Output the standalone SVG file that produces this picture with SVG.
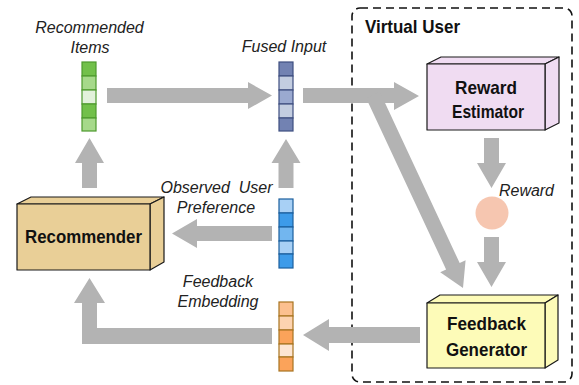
<svg xmlns="http://www.w3.org/2000/svg" width="579" height="385" viewBox="0 0 579 385">
  <style>
    .arr { fill: #b3b3b3; }
    .lbl { font-family: "Liberation Sans", Arial, sans-serif; font-style: italic; font-size: 16px; fill: #222; }
    .box { stroke: #1a1a1a; stroke-width: 1.2; stroke-linejoin: round; }
    .title { font-family: "Liberation Sans", Arial, sans-serif; font-weight: bold; font-size: 19px; fill: #111; }
    .cell { stroke-width: 1.2; }
  </style>

  <rect width="579" height="385" fill="#ffffff"/>

  <!-- Virtual user container -->
  <g id="virtual-user">
    <rect x="352" y="8" width="220" height="374" rx="8" ry="8" fill="none" stroke="#111" stroke-width="1.6" stroke-dasharray="8 5"/>
    <text class="title" x="365" y="33" textLength="95" lengthAdjust="spacingAndGlyphs">Virtual User</text>
  </g>

  <!-- Connectors -->
  <g id="connectors">
    <polygon class="arr" points="107,88 248,88 248,82 272,95.5 248,109 248,103 107,103"/>
    <polygon class="arr" points="303,88 394,88 394,82 419,96 394,110 394,103 303,103"/>
    <polygon class="arr" points="366.2,98.2 379.8,91.8 459.7,263.1 465.6,260.3 463,288 440.2,272.2 446.1,269.4"/>
    <polygon class="arr" points="484,138 499,138 499,163 506,163 491.5,188 477,163 484,163"/>
    <polygon class="arr" points="484,237 499,237 499,262 506,262 491.5,287 477,262 484,262"/>
    <polygon class="arr" points="272,226 197,226 197,219 172,233.5 197,248 197,241 272,241"/>
    <polygon class="arr" points="82,188 82,163 75,163 89.5,138 104,163 97,163 97,188"/>
    <polygon class="arr" points="278.5,188 278.5,163 271.5,163 286,139 300.5,163 293.5,163 293.5,188"/>
    <polygon class="arr" points="272,328 272,344 82,344 82,303 74,303 89.5,278 105,303 97,303 97,328"/>
    <polygon class="arr" points="420,327 329,327 329,319 303,335 329,351 329,343 420,343"/>
  </g>

  <!-- Recommender -->
  <g id="recommender">
    <polygon class="box" fill="#e9cf97" points="17,204 31,197 164,197 150,204"/>
    <polygon class="box" fill="#e9cf97" points="150,204 164,197 164,262 150,270"/>
    <rect class="box" fill="#e9cf97" x="17" y="204" width="133" height="66"/>
    <text class="title" x="83.5" y="243" text-anchor="middle" textLength="117" lengthAdjust="spacingAndGlyphs">Recommender</text>
  </g>

  <!-- Reward estimator -->
  <g id="reward-estimator">
    <polygon class="box" fill="#f0dcf2" points="427,64 441,57 559,57 545,64"/>
    <polygon class="box" fill="#f0dcf2" points="545,64 559,57 559,123 545,130"/>
    <rect class="box" fill="#f0dcf2" x="427" y="64" width="118" height="66"/>
    <text class="title" x="486" y="94" text-anchor="middle" textLength="62" lengthAdjust="spacingAndGlyphs">Reward</text>
    <text class="title" x="488" y="118" text-anchor="middle" textLength="72" lengthAdjust="spacingAndGlyphs">Estimator</text>
  </g>

  <!-- Reward signal -->
  <g id="reward">
    <circle cx="492" cy="213" r="16.5" fill="#f6c6b0"/>
    <text class="lbl" x="499" y="196" textLength="55" lengthAdjust="spacingAndGlyphs">Reward</text>
  </g>

  <!-- Feedback generator -->
  <g id="feedback-generator">
    <polygon class="box" fill="#fdfbb8" points="427,303 440,295 558,295 545,303"/>
    <polygon class="box" fill="#fdfbb8" points="545,303 558,295 558,360 545,368"/>
    <rect class="box" fill="#fdfbb8" x="427" y="303" width="118" height="65"/>
    <text class="title" x="486.5" y="330" text-anchor="middle" textLength="79" lengthAdjust="spacingAndGlyphs">Feedback</text>
    <text class="title" x="486.5" y="356" text-anchor="middle" textLength="81" lengthAdjust="spacingAndGlyphs">Generator</text>
  </g>

  <!-- Recommended items vector -->
  <g id="recommended-items">
    <g class="cell" stroke="#4e9a2e">
      <rect x="82" y="62" width="14" height="14" fill="#72c04a"/>
      <rect x="82" y="76" width="14" height="14" fill="#a6d98a"/>
      <rect x="82" y="90" width="14" height="14" fill="#e2f1db"/>
      <rect x="82" y="104" width="14" height="14" fill="#72c04a"/>
      <rect x="82" y="118" width="14" height="13" fill="#a6d98a"/>
    </g>
    <text class="lbl" x="89.5" y="33" text-anchor="middle">Recommended</text>
    <text class="lbl" x="90" y="53" text-anchor="middle">Items</text>
  </g>

  <!-- Fused input vector -->
  <g id="fused-input">
    <g class="cell" stroke="#3f4f80">
      <rect x="279" y="62" width="14" height="14" fill="#7282b2"/>
      <rect x="279" y="76" width="14" height="14" fill="#c3cde0"/>
      <rect x="279" y="90" width="14" height="14" fill="#9aa9d0"/>
      <rect x="279" y="104" width="14" height="14" fill="#c3cde0"/>
      <rect x="279" y="118" width="14" height="13" fill="#7282b2"/>
    </g>
    <text class="lbl" x="284" y="52" text-anchor="middle">Fused Input</text>
  </g>

  <!-- Observed user preference vector -->
  <g id="observed-preference">
    <g class="cell" stroke="#1b5f9e">
      <rect x="279" y="199" width="14" height="14" fill="#a8d0f5"/>
      <rect x="279" y="213" width="14" height="14" fill="#3d9be9"/>
      <rect x="279" y="227" width="14" height="14" fill="#72b6ef"/>
      <rect x="279" y="241" width="14" height="13" fill="#a8d0f5"/>
      <rect x="279" y="254" width="14" height="14" fill="#3d9be9"/>
    </g>
    <text class="lbl" x="216.5" y="193" text-anchor="middle" xml:space="preserve">Observed  User</text>
    <text class="lbl" x="216" y="213" text-anchor="middle">Preference</text>
  </g>

  <!-- Feedback embedding vector -->
  <g id="feedback-embedding">
    <g class="cell" stroke="#a87420">
      <rect x="279" y="302" width="14" height="14" fill="#fcc08f"/>
      <rect x="279" y="316" width="14" height="14" fill="#fdd3b0"/>
      <rect x="279" y="330" width="14" height="14" fill="#fba35a"/>
      <rect x="279" y="344" width="14" height="13" fill="#fde5d2"/>
      <rect x="279" y="357" width="14" height="14" fill="#fba35a"/>
    </g>
    <text class="lbl" x="218" y="287" text-anchor="middle">Feedback</text>
    <text class="lbl" x="218" y="307" text-anchor="middle">Embedding</text>
  </g>
</svg>
